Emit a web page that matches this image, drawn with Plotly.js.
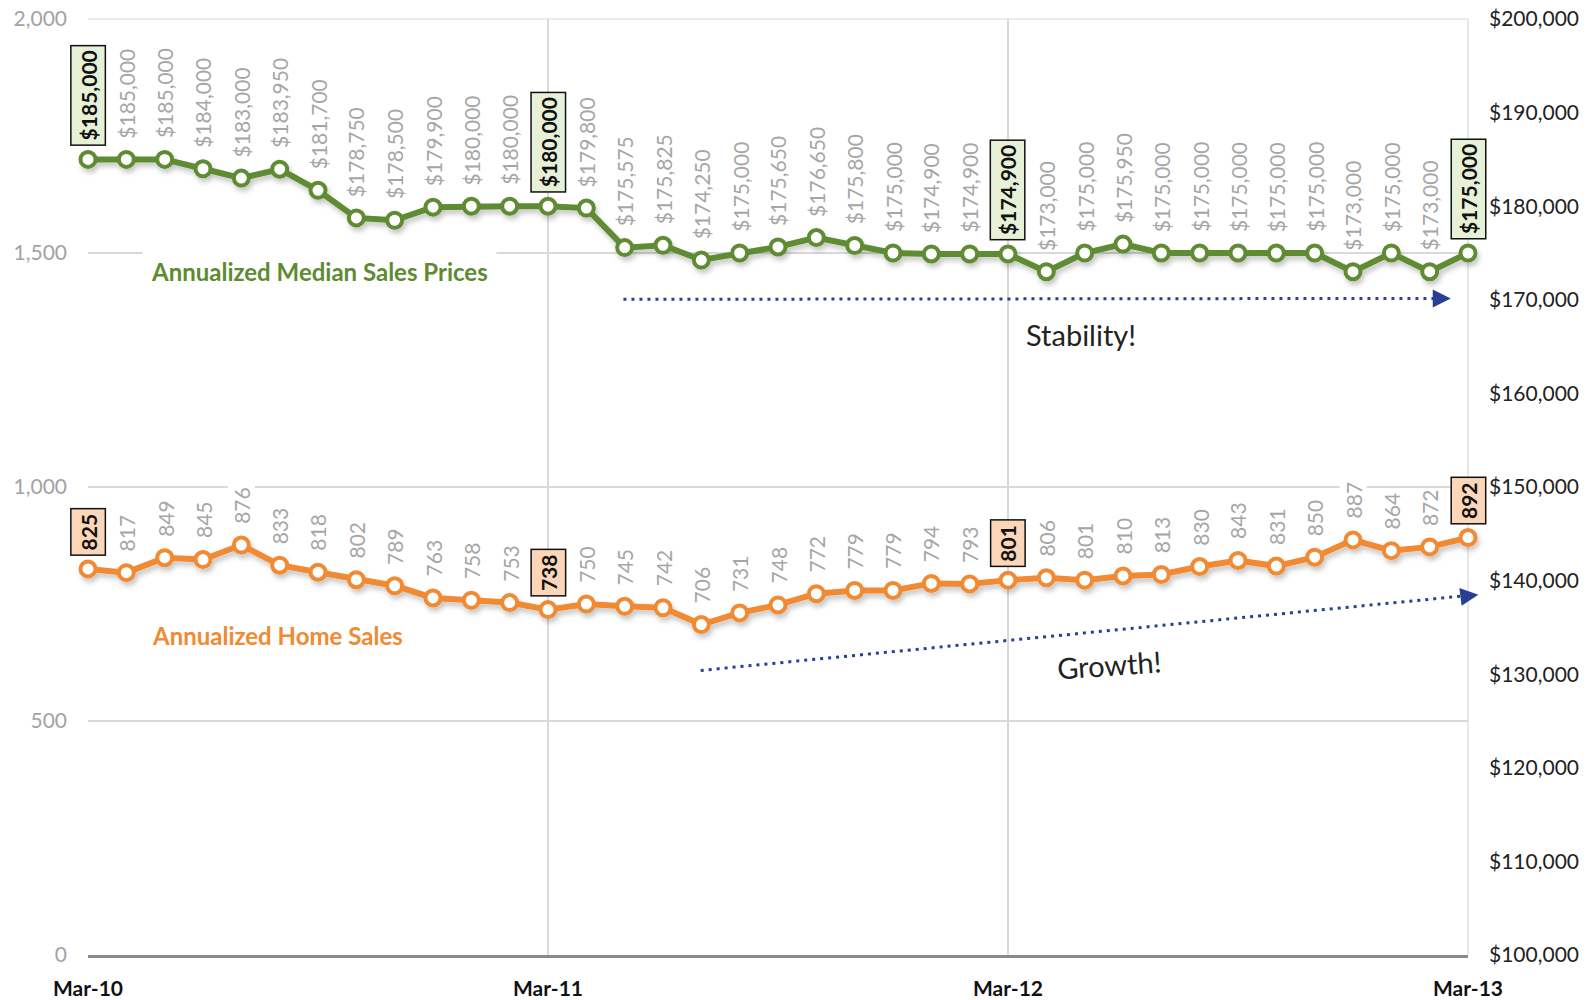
<!DOCTYPE html>
<html>
<head>
<meta charset="utf-8">
<script src="https://cdn.plot.ly/plotly-3.0.1.min.js"></script>
<style>
html,body{margin:0;padding:0;background:#fff;}
#chart{width:1587px;height:1000px;}
</style>
</head>
<body>
<div id="chart"></div>
<script>
// ---- data ----
const months = [
  "Mar-10","Apr-10","May-10","Jun-10","Jul-10","Aug-10","Sep-10","Oct-10","Nov-10","Dec-10","Jan-11","Feb-11",
  "Mar-11","Apr-11","May-11","Jun-11","Jul-11","Aug-11","Sep-11","Oct-11","Nov-11","Dec-11","Jan-12","Feb-12",
  "Mar-12","Apr-12","May-12","Jun-12","Jul-12","Aug-12","Sep-12","Oct-12","Nov-12","Dec-12","Jan-13","Feb-13",
  "Mar-13"
];
const medianPrices = [
  185000,185000,185000,184000,183000,183950,181700,178750,178500,179900,180000,180000,
  180000,179800,175575,175825,174250,175000,175650,176650,175800,175000,174900,174900,
  174900,173000,175000,175950,175000,175000,175000,175000,175000,173000,175000,173000,
  175000
];
const homeSales = [
  825,817,849,845,876,833,818,802,789,763,758,753,
  738,750,745,742,706,731,748,772,779,779,794,793,
  801,806,801,810,813,830,843,831,850,887,864,872,
  892
];
const xTickLabels = ["Mar-10","Mar-11","Mar-12","Mar-13"];
const highlightIdx = [0,12,24,36];
const seriesNames = ["Annualized Median Sales Prices","Annualized Home Sales"];

// ---- styles ----
const GREEN = "#5e8b31", ORANGE = "#f18a30", BLUE = "#283f94", GRID = "#d9d9d9";
const FONT = "Lato, 'Open Sans', sans-serif";

const traces = [
  {
    x: months, y: homeSales, type: "scatter", mode: "lines+markers", name: seriesNames[1],
    line: {color: ORANGE, width: 6},
    marker: {size: 15, color: "#fff", line: {color: ORANGE, width: 4}},
    yaxis: "y", cliponaxis: false, hoverinfo: "skip"
  },
  {
    x: months, y: medianPrices, type: "scatter", mode: "lines+markers", name: seriesNames[0],
    line: {color: GREEN, width: 6},
    marker: {size: 15, color: "#fff", line: {color: GREEN, width: 4}},
    yaxis: "y2", cliponaxis: false, hoverinfo: "skip"
  }
];

const annotations = [];
function fmt(v){ return v.toLocaleString("en-US"); }

medianPrices.forEach((v,i)=>{
  const hl = highlightIdx.includes(i);
  annotations.push({
    x: months[i], y: v, xref: "x", yref: "y2", text: hl ? "<b>$"+fmt(v)+"</b>" : "$"+fmt(v),
    showarrow: false, textangle: -90, xanchor: "center", yanchor: "bottom",
    yshift: hl ? 13 : 20,
    font: {family: FONT, size: 21, color: hl ? "#111" : "#a6a6a6"},
    bgcolor: hl ? "#e6f1d8" : "rgba(255,255,255,1)",
    bordercolor: hl ? "#111" : "rgba(0,0,0,0)", borderwidth: hl ? 1.5 : 0, borderpad: hl ? 4 : 1
  });
});
homeSales.forEach((v,i)=>{
  const hl = highlightIdx.includes(i);
  annotations.push({
    x: months[i], y: v, xref: "x", yref: "y", text: hl ? "<b>"+fmt(v)+"</b>" : fmt(v),
    showarrow: false, textangle: -90, xanchor: "center", yanchor: "bottom",
    yshift: hl ? 13 : 20,
    font: {family: FONT, size: 21, color: hl ? "#111" : "#a6a6a6"},
    bgcolor: hl ? "#fbd6b8" : "rgba(255,255,255,1)",
    bordercolor: hl ? "#111" : "rgba(0,0,0,0)", borderwidth: hl ? 1.5 : 0, borderpad: hl ? 4 : 1
  });
});
const nDataLabels = annotations.length;

// series name labels and comments
annotations.push(
  {x: 0.168, y: 1461, xref: "paper", yref: "y", xanchor: "center", yanchor: "middle",
   text: "<b>"+seriesNames[0]+"</b>", showarrow: false,
   font: {family: FONT, size: 24, color: GREEN}, bgcolor: "#fff", borderpad: 8},
  {x: 0.137, y: 683, xref: "paper", yref: "y", xanchor: "center", yanchor: "middle",
   text: "<b>"+seriesNames[1]+"</b>", showarrow: false,
   font: {family: FONT, size: 24, color: ORANGE}, bgcolor: "#fff", borderpad: 8},
  {x: 0.7197, y: 1325, xref: "paper", yref: "y", xanchor: "center", yanchor: "middle",
   text: "Stability!", showarrow: false,
   font: {family: FONT, size: 29, color: "#222"}},
  {x: 0.7395, y: 621, xref: "paper", yref: "y", xanchor: "center", yanchor: "middle",
   text: "Growth!", showarrow: false, textangle: -4,
   font: {family: FONT, size: 29, color: "#222"}}
);

// arrow lines (paper x, y in left-axis units)
const stabilityArrow = {x0: 0.388, y0: 1401, x1: 0.978, y1: 1403};
const growthArrow = {x0: 0.444, y0: 608, x1: 0.996, y1: 767};
const shapes = [stabilityArrow, growthArrow].map(a => ({
  type: "line", xref: "paper", yref: "y", x0: a.x0, y0: a.y0, x1: a.x1, y1: a.y1,
  line: {color: BLUE, width: 3, dash: "3px,5px"}
}));
// right edge (Mar-13) vertical gridline and top gridline
shapes.push(
  {type: "line", xref: "paper", yref: "paper", x0: 1, x1: 1, y0: 0, y1: 1, layer: "below", line: {color: GRID, width: 1.2}},
  {type: "line", xref: "paper", yref: "paper", x0: 0, x1: 1, y0: 1, y1: 1, layer: "below", line: {color: GRID, width: 1.2}}
);
annotations.push(
  {x: 0.9875, y: 1403, xref: "paper", yref: "y", ax: -8, ay: 0, text: "", showarrow: true,
   arrowhead: 2, arrowsize: 1.8, arrowwidth: 2, arrowcolor: BLUE},
  {x: 1.0075, y: 770, xref: "paper", yref: "y", ax: -8, ay: 1, text: "", showarrow: true,
   arrowhead: 2, arrowsize: 1.8, arrowwidth: 2, arrowcolor: BLUE}
);

const layout = {
  width: 1587, height: 1000,
  margin: {l: 88, r: 119, t: 19, b: 45},
  paper_bgcolor: "#fff", plot_bgcolor: "#fff",
  showlegend: false,
  font: {family: FONT},
  xaxis: {
    type: "category", range: [0, 36], tickmode: "array", tickvals: xTickLabels, ticktext: xTickLabels.map(t=>"<b>"+t+"</b>"),
    showgrid: true, gridcolor: GRID, gridwidth: 1.2,
    showline: true, linecolor: "#8a8a8a", linewidth: 2.5,
    ticks: "", ticklabelstandoff: 13,
    tickfont: {family: FONT, size: 21, color: "#111"}, zeroline: false
  },
  yaxis: {
    range: [0, 2000], dtick: 500, tickformat: ",", showgrid: true, gridcolor: GRID, gridwidth: 1.2,
    zeroline: false, showline: false, ticks: "", ticklabelstandoff: 20,
    tickfont: {family: FONT, size: 21, color: "#a3a3a3"}
  },
  yaxis2: {
    range: [100000, 200000], dtick: 10000, tickformat: ",", tickprefix: "$", overlaying: "y", side: "right",
    showgrid: false, zeroline: false, showline: false, ticks: "", ticklabelstandoff: 20,
    tickfont: {family: FONT, size: 21, color: "#222"}
  },
  shapes: shapes,
  annotations: annotations
};

Plotly.newPlot("chart", traces, layout, {staticPlot: true}).then(gd=>{
  const svg = gd.querySelector(".main-svg");
  const ns = "http://www.w3.org/2000/svg";
  // subtle drop shadow on the lines
  const defs = svg.querySelector("defs");
  const f = document.createElementNS(ns,"filter");
  f.setAttribute("id","lineShadow"); f.setAttribute("x","-5%"); f.setAttribute("y","-20%");
  f.setAttribute("width","110%"); f.setAttribute("height","140%");
  const ds = document.createElementNS(ns,"feDropShadow");
  ds.setAttribute("dx","2"); ds.setAttribute("dy","4"); ds.setAttribute("stdDeviation","2.5");
  ds.setAttribute("flood-color","#000"); ds.setAttribute("flood-opacity","0.22");
  f.appendChild(ds); defs.appendChild(f);
  gd.querySelectorAll(".scatterlayer .trace").forEach(t=>t.setAttribute("filter","url(#lineShadow)"));
  // put data labels between gridlines and the lines (labels hide gridlines, not the lines)
  const subplot = gd.querySelector(".cartesianlayer .subplot.xy");
  const overplot = subplot && subplot.querySelector(".overplot");
  if (subplot && overplot) {
    const g = document.createElementNS(ns,"g");
    g.setAttribute("class","datalabels");
    subplot.insertBefore(g, overplot);
    gd.querySelectorAll(".infolayer g.annotation").forEach(a=>{
      const idx = +a.getAttribute("data-index");
      if (idx < nDataLabels) g.appendChild(a);
    });
  }
});
</script>
</body>
</html>
